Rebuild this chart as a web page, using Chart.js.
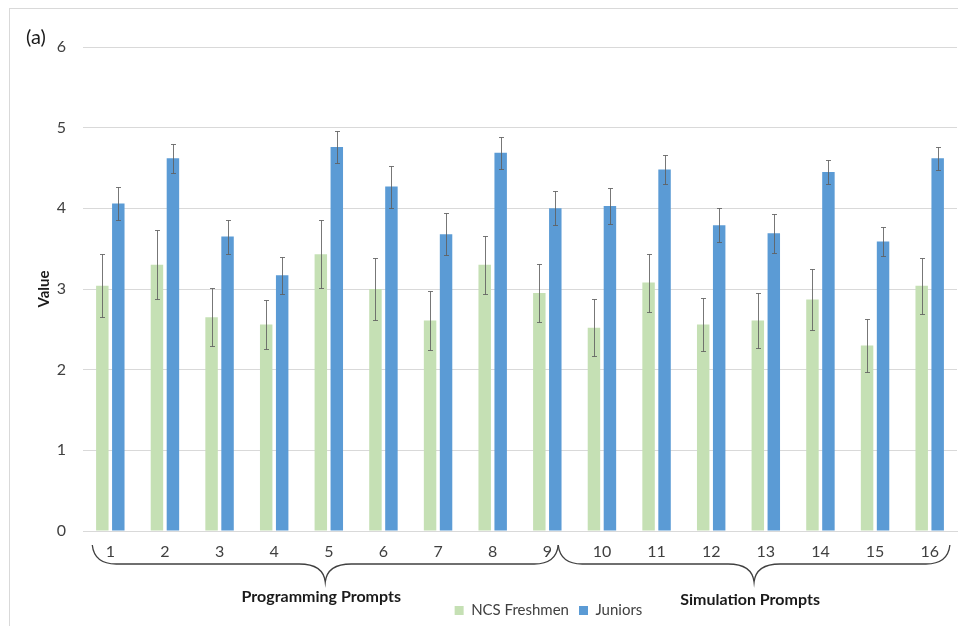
<!DOCTYPE html>
<html>
<head>
<meta charset="utf-8">
<script src="https://cdn.jsdelivr.net/npm/chart.js@4/dist/chart.umd.min.js"></script>
<style>
  html, body { margin: 0; padding: 0; background: #ffffff; }
  #wrap { position: relative; width: 958px; height: 626px; overflow: hidden; }
  #frame { position: absolute; left: 9px; top: 8px; width: 1000px; height: 700px;
           border-top: 1px solid #d9d9d9; border-left: 1px solid #d9d9d9; }
  canvas { position: absolute; left: 0; top: 0; }
</style>
</head>
<body>
<div id="wrap">
  <div id="frame"></div>
  <canvas id="c" width="958" height="626"></canvas>
</div>
<script>
// ---- data ----
const categories = ['1','2','3','4','5','6','7','8','9','10','11','12','13','14','15','16'];
const freshmen    = [3.04, 3.30, 2.65, 2.56, 3.43, 3.00, 2.61, 3.30, 2.95, 2.52, 3.08, 2.56, 2.61, 2.87, 2.30, 3.04];
const freshmenErr = [0.39, 0.43, 0.36, 0.30, 0.42, 0.39, 0.36, 0.36, 0.36, 0.35, 0.36, 0.33, 0.34, 0.38, 0.33, 0.35];
const juniors     = [4.06, 4.62, 3.65, 3.17, 4.76, 4.27, 3.68, 4.69, 4.00, 4.03, 4.48, 3.79, 3.69, 4.45, 3.59, 4.62];
const juniorsErr  = [0.20, 0.18, 0.21, 0.23, 0.20, 0.26, 0.26, 0.20, 0.21, 0.22, 0.18, 0.21, 0.24, 0.15, 0.18, 0.14];
const seriesNames = ['NCS Freshmen', 'Juniors'];
const groupLabels = ['Programming Prompts', 'Simulation Prompts'];
const braceFrom   = [-0.33, 8.2];   // brace extents in category units
const braceTo     = [8.2, 15.37];
const panelLabel  = '(a)';

const FONT = 'Lato, "Open Sans", sans-serif';
const TXT = '#404040';

const errorBars = {
  id: 'errorBars',
  afterDatasetsDraw(chart) {
    const ctx = chart.ctx;
    const y = chart.scales.y;
    const errs = [freshmenErr, juniorsErr];
    ctx.save();
    ctx.strokeStyle = 'rgba(95,95,95,0.85)';
    ctx.lineWidth = 1;
    chart.data.datasets.forEach((ds, i) => {
      const meta = chart.getDatasetMeta(i);
      meta.data.forEach((el, j) => {
        const v = ds.data[j], e = errs[i][j];
        const x = Math.round(el.x) + 0.5;
        const t = Math.round(y.getPixelForValue(v + e)) + 0.5;
        const b = Math.round(y.getPixelForValue(v - e)) + 0.5;
        ctx.beginPath();
        ctx.moveTo(x, t); ctx.lineTo(x, b);
        ctx.moveTo(x - 2.5, t); ctx.lineTo(x + 2.5, t);
        ctx.moveTo(x - 2.5, b); ctx.lineTo(x + 2.5, b);
        ctx.stroke();
      });
    });
    ctx.restore();
  }
};

const braces = {
  id: 'braces',
  afterDraw(chart) {
    const ctx = chart.ctx;
    const xs = chart.scales.x;
    const w = xs.getPixelForValue(1) - xs.getPixelForValue(0);
    const px = v => xs.getPixelForValue(0) + v * w;
    const base = chart.chartArea.bottom;
    const yTop = base + 14, yLine = base + 33, yPt = base + 51;
    ctx.save();
    ctx.strokeStyle = '#404040';
    ctx.lineWidth = 1.3;
    groupLabels.forEach((g, i) => {
      const x0 = px(braceFrom[i]), x1 = px(braceTo[i]);
      const xm = (x0 + x1) / 2;
      ctx.beginPath();
      ctx.moveTo(x0, yTop);
      ctx.quadraticCurveTo(x0 + 2, yLine, x0 + 24, yLine);
      ctx.lineTo(xm - 26, yLine);
      ctx.quadraticCurveTo(xm - 2, yLine, xm, yPt);
      ctx.quadraticCurveTo(xm + 2, yLine, xm + 26, yLine);
      ctx.lineTo(x1 - 24, yLine);
      ctx.quadraticCurveTo(x1 - 2, yLine, x1, yTop);
      ctx.stroke();
      ctx.fillStyle = '#1a1a1a';
      ctx.font = 'bold 16px ' + FONT;
      ctx.textAlign = 'center';
      ctx.textBaseline = 'middle';
      ctx.fillText(g, xm - 4, base + (i === 0 ? 66 : 69));
    });
    ctx.fillStyle = '#1a1a1a';
    ctx.font = '20px ' + FONT;
    ctx.textAlign = 'left';
    ctx.textBaseline = 'middle';
    ctx.fillText(panelLabel, 26, 38);
    ctx.restore();
  }
};

const legendShift = {
  id: 'legendShift',
  afterLayout(chart) {
    const lg = chart.legend;
    if (lg) { lg.left += 70; lg.right += 70; lg.top += 2; lg.bottom += 2; }
  }
};

new Chart(document.getElementById('c'), {
  type: 'bar',
  data: {
    labels: categories,
    datasets: [
      { label: seriesNames[0], data: freshmen, backgroundColor: '#c5e0b4',
        categoryPercentage: 0.585, barPercentage: 0.78 },
      { label: seriesNames[1], data: juniors, backgroundColor: '#5b9bd5',
        categoryPercentage: 0.585, barPercentage: 0.78 }
    ]
  },
  options: {
    responsive: false,
    animation: false,
    layout: { padding: { top: 47, right: 1, bottom: 0, left: 0 } },
    plugins: {
      legend: {
        position: 'bottom',
        labels: { boxWidth: 9, boxHeight: 9, padding: 10, color: TXT,
                  font: { family: FONT, size: 15 } }
      },
      tooltip: { enabled: false }
    },
    scales: {
      x: {
        grid: { display: false, drawTicks: false },
        border: { display: true, color: '#d9d9d9' },
        ticks: { color: TXT, font: { family: FONT, size: 16 }, padding: 11, maxRotation: 0 },
        afterFit(s) { s.height = 60; }
      },
      y: {
        min: 0, max: 6,
        ticks: { stepSize: 1, color: TXT, font: { family: FONT, size: 16 }, padding: 17 },
        grid: { color: '#d9d9d9', drawTicks: false },
        border: { display: false },
        title: { display: true, text: 'Value', color: '#1a1a1a',
                 font: { family: FONT, size: 15, weight: 'bold' }, padding: { top: 35, bottom: 0 } },
        afterFit(s) { s.width = 83; }
      }
    }
  },
  plugins: [errorBars, braces, legendShift]
});
</script>
</body>
</html>
